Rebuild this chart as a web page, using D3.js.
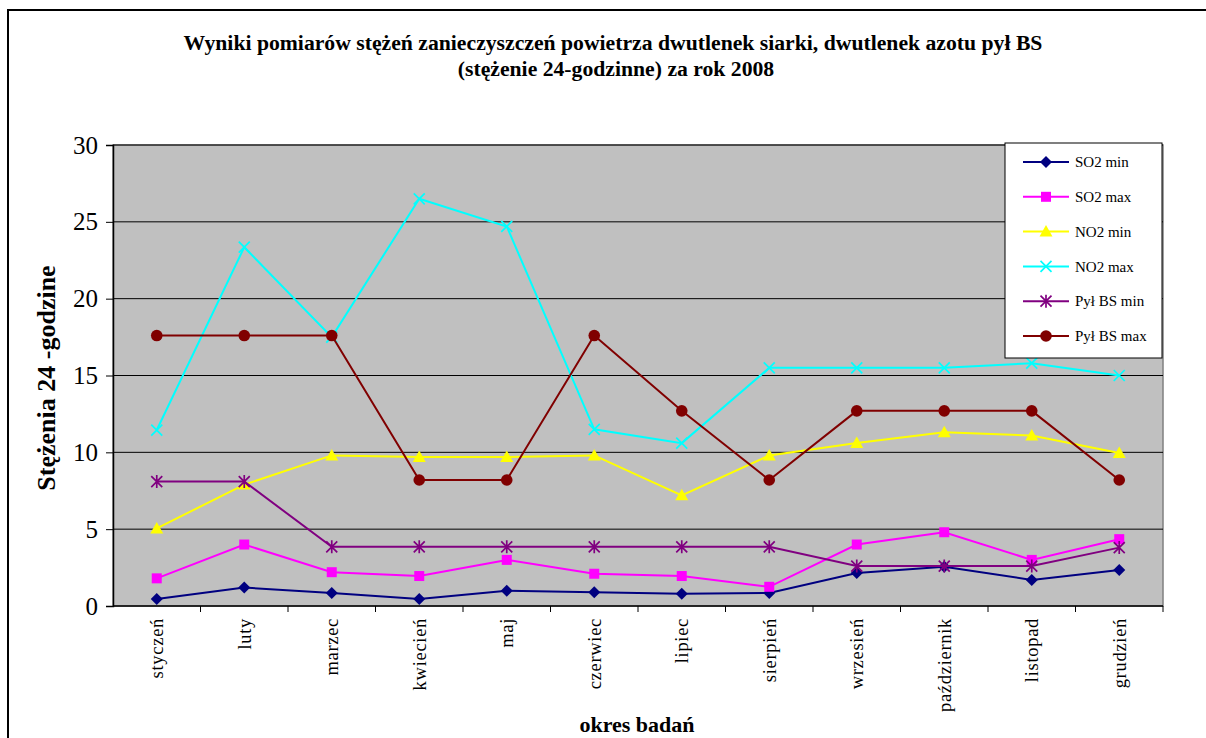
<!DOCTYPE html>
<html>
<head>
<meta charset="utf-8">
<script src="https://cdn.jsdelivr.net/npm/d3@7"></script>
<style>
  body { margin: 0; background: #fff; }
</style>
</head>
<body>
<div id="chart"></div>
<script>
const months = ["styczeń", "luty", "marzec", "kwiecień", "maj", "czerwiec", "lipiec", "sierpień", "wrzesień", "październik", "listopad", "grudzień"];
const so2Min = [0.45, 1.2, 0.85, 0.45, 1.0, 0.9, 0.8, 0.85, 2.15, 2.55, 1.7, 2.35];
const so2Max = [1.8, 4.0, 2.2, 1.95, 3.0, 2.1, 1.95, 1.25, 4.0, 4.8, 3.0, 4.35];
const no2Min = [5.05, 7.9, 9.8, 9.7, 9.7, 9.8, 7.2, 9.8, 10.6, 11.3, 11.1, 9.95];
const no2Max = [11.45, 23.35, 17.5, 26.5, 24.7, 11.5, 10.6, 15.5, 15.5, 15.5, 15.8, 15.0];
const pylMin = [8.1, 8.1, 3.85, 3.85, 3.85, 3.85, 3.85, 3.85, 2.6, 2.6, 2.6, 3.8];
const pylMax = [17.6, 17.6, 17.6, 8.2, 8.2, 17.6, 12.7, 8.2, 12.7, 12.7, 12.7, 8.2];
const seriesNames = ["SO2 min", "SO2 max", "NO2 min", "NO2 max", "Pył BS min", "Pył BS max"];
const yTicks = [0, 5, 10, 15, 20, 25, 30];

const series = [
    { name: seriesNames[0], values: so2Min, color: "#000080", marker: "diamond" },
    { name: seriesNames[1], values: so2Max, color: "#ff00ff", marker: "square" },
    { name: seriesNames[2], values: no2Min, color: "#ffff00", marker: "triangle" },
    { name: seriesNames[3], values: no2Max, color: "#00ffff", marker: "cross" },
    { name: seriesNames[4], values: pylMin, color: "#800080", marker: "star" },
    { name: seriesNames[5], values: pylMax, color: "#800000", marker: "circle" }
];

const width = 1206;
const height = 738;
const plot = { left: 113, right: 1163, top: 145, bottom: 606 };
const serif = "Liberation Serif";

const svg = d3.select("div#chart")
    .append("svg")
    .attr("width", width)
    .attr("height", height)
    .attr("font-family", serif);

// outer chart border
svg.append("rect")
    .attr("x", 8).attr("y", 10)
    .attr("width", 1230).attr("height", 760)
    .attr("fill", "white")
    .attr("stroke", "black")
    .attr("stroke-width", 2);

const x = d3.scaleBand().domain(months).range([plot.left, plot.right]);
const y = d3.scaleLinear().domain([0, 30]).range([plot.bottom, plot.top]);

svg.append("rect")
    .attr("x", plot.left).attr("y", plot.top)
    .attr("width", plot.right - plot.left)
    .attr("height", plot.bottom - plot.top)
    .attr("fill", "#c0c0c0")
    .attr("stroke", "#808080")
    .attr("stroke-width", 1.5);

// grid
svg.selectAll("line.grid")
    .data(yTicks.filter(d => d > 0))
    .enter()
    .append("line")
    .attr("class", "grid")
    .attr("x1", plot.left).attr("x2", plot.right)
    .attr("y1", d => y(d)).attr("y2", d => y(d))
    .attr("stroke", "black")
    .attr("stroke-width", 1);

// y axis
const yAxis = svg.append("g")
    .attr("transform", "translate(" + plot.left + ",0)")
    .call(d3.axisLeft(y).tickValues(yTicks).tickSize(7).tickPadding(8));
yAxis.attr("font-family", serif);
yAxis.select(".domain").attr("stroke", "black").attr("stroke-width", 1.5);
yAxis.selectAll("text").style("font-size", "25px").attr("fill", "black");

// x axis: ticks at category boundaries
const xAxis = svg.append("g")
    .attr("transform", "translate(0," + plot.bottom + ")");
xAxis.append("line")
    .attr("x1", plot.left).attr("x2", plot.right)
    .attr("stroke", "black").attr("stroke-width", 1.5);
xAxis.selectAll("line.tick")
    .data(months)
    .enter()
    .append("line")
    .attr("class", "tick")
    .attr("x1", d => x(d) + x.bandwidth()).attr("x2", d => x(d) + x.bandwidth())
    .attr("y1", 0).attr("y2", 6)
    .attr("stroke", "black");
xAxis.selectAll("text")
    .data(months)
    .enter()
    .append("text")
    .attr("transform", d => "translate(" + (x(d) + x.bandwidth() / 2) + ",12) rotate(-90)")
    .attr("text-anchor", "end")
    .attr("dy", "0.35em")
    .style("font-size", "18.5px")
    .style("letter-spacing", "0.7px")
    .text(d => d);

function markerPath(type) {
    const r = 6;
    if (type == "diamond") return "M0," + (-r) + "L" + r + ",0L0," + r + "L" + (-r) + ",0Z";
    if (type == "square") return "M-5,-5H5V5H-5Z";
    if (type == "triangle") return "M0,-6.5L6.5,5H-6.5Z";
    if (type == "cross") return "M-5.5,-5.5L5.5,5.5M-5.5,5.5L5.5,-5.5";
    if (type == "star") return "M-5.5,-5.5L5.5,5.5M-5.5,5.5L5.5,-5.5M0,-6.5V6.5";
    return null;
}

function drawMarker(g, s, cx, cy) {
    if (s.marker == "circle") {
        g.append("circle").attr("cx", cx).attr("cy", cy).attr("r", 5.8).attr("fill", s.color);
        return;
    }
    const open = s.marker == "cross" || s.marker == "star";
    g.append("path")
        .attr("d", markerPath(s.marker))
        .attr("transform", "translate(" + cx + "," + cy + ")")
        .attr("fill", open ? "none" : s.color)
        .attr("stroke", open ? s.color : "none")
        .attr("stroke-width", 1.7);
}

const line = d3.line()
    .x((d, i) => x(months[i]) + x.bandwidth() / 2)
    .y(d => y(d));

series.forEach(s => {
    const g = svg.append("g");
    g.append("path")
        .attr("d", line(s.values))
        .attr("fill", "none")
        .attr("stroke", s.color)
        .attr("stroke-width", 2);
    s.values.forEach((v, i) => {
        drawMarker(g, s, x(months[i]) + x.bandwidth() / 2, y(v));
    });
});

// legend
const legend = svg.append("g");
legend.append("rect")
    .attr("x", 1005).attr("y", 143)
    .attr("width", 157).attr("height", 215)
    .attr("fill", "white")
    .attr("stroke", "black")
    .attr("stroke-width", 1);
series.forEach((s, i) => {
    const ly = 162 + i * 34.8;
    legend.append("line")
        .attr("x1", 1023).attr("x2", 1069)
        .attr("y1", ly).attr("y2", ly)
        .attr("stroke", s.color).attr("stroke-width", 2);
    drawMarker(legend, s, 1046, ly);
    legend.append("text")
        .attr("x", 1075).attr("y", ly)
        .attr("dy", "0.35em")
        .style("font-size", "15px")
        .text(s.name);
});

// titles
svg.append("text")
    .attr("x", 613).attr("y", 50)
    .attr("text-anchor", "middle")
    .style("font-size", "21.7px").style("font-weight", "bold")
    .text("Wyniki pomiarów stężeń zanieczyszczeń powietrza dwutlenek siarki, dwutlenek azotu pył BS");
svg.append("text")
    .attr("x", 616).attr("y", 76)
    .attr("text-anchor", "middle")
    .style("font-size", "21.7px").style("font-weight", "bold")
    .text("(stężenie 24-godzinne) za rok 2008");

svg.append("text")
    .attr("x", 637).attr("y", 732)
    .attr("text-anchor", "middle")
    .style("font-size", "22px").style("font-weight", "bold")
    .text("okres badań");

svg.append("text")
    .attr("transform", "translate(55,378) rotate(-90)")
    .attr("text-anchor", "middle")
    .style("font-size", "26px").style("font-weight", "bold")
    .text("Stężenia 24 -godzine");
</script>
</body>
</html>
